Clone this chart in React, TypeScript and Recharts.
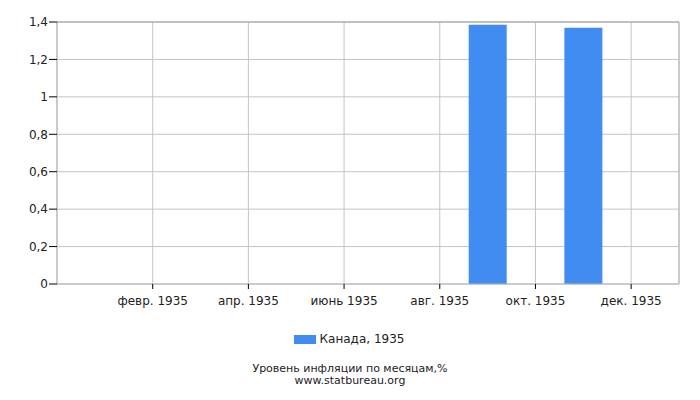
import React from 'react'
import { BarChart, Bar, XAxis, YAxis, CartesianGrid, ReferenceLine } from 'recharts'

// месяцы 1935 (1 = янв.)
const MONTHS = [1, 2, 3, 4, 5, 6, 7, 8, 9, 10, 11, 12]
const CANADA_1935: (number | null)[] = [null, null, null, null, null, null, null, null, 1.385, null, 1.369, null]
const X_TICKS = [2, 4, 6, 8, 10, 12]
const X_LABELS: Record<number, string> = {
  2: 'февр. 1935',
  4: 'апр. 1935',
  6: 'июнь 1935',
  8: 'авг. 1935',
  10: 'окт. 1935',
  12: 'дек. 1935'
}
const Y_TICKS = [0, 0.2, 0.4, 0.6, 0.8, 1, 1.2, 1.4]
const SERIES_NAME = 'Канада, 1935'
const TITLE = 'Уровень инфляции по месяцам,%'
const SOURCE = 'www.statbureau.org'

const FONT = '"DejaVu Sans", sans-serif'
const BLUE = '#418cf0'

const data = MONTHS.map((m, i) => ({ m, value: CANADA_1935[i] }))

const fmtY = (v: number) => String(v).replace('.', ',')

export default function App() {
  return (
    <div style={{ position: 'absolute', left: 0, top: 0, width: 700, height: 400, background: '#fff', fontFamily: FONT }}>
      <BarChart width={700} height={400} data={data} margin={{ top: 22, right: 21, left: 0, bottom: 85 }}>
        <CartesianGrid stroke="#c4c4c4" strokeWidth={1} />
        <XAxis
          dataKey="m"
          type="number"
          domain={[0, 13]}
          ticks={X_TICKS}
          tickFormatter={(v: number) => X_LABELS[v] ?? ''}
          height={31}
          tickSize={5}
          tickMargin={7}
          axisLine={{ stroke: '#b4b4b4' }}
          tickLine={{ stroke: '#000' }}
          tick={{ fontSize: 12, fill: '#222', fontFamily: FONT }}
          interval={0}
        />
        <YAxis
          domain={[0, 1.4]}
          ticks={Y_TICKS}
          tickFormatter={fmtY}
          width={57}
          tickSize={8}
          tickMargin={1}
          axisLine={{ stroke: '#b4b4b4' }}
          tickLine={{ stroke: '#000' }}
          tick={{ fontSize: 12, fill: '#222', fontFamily: FONT }}
          interval={0}
        />
        <ReferenceLine y={1.4} stroke="#a0a0a0" />
        <ReferenceLine x={13} stroke="#b4b4b4" />
        <Bar dataKey="value" fill={BLUE} barSize={38} isAnimationActive={false} />
      </BarChart>

      <div style={{ position: 'absolute', left: 0, top: 332, width: 700, display: 'flex', justifyContent: 'center', alignItems: 'center' }}>
        <span style={{ display: 'inline-block', width: 22, height: 9, background: BLUE, marginRight: 4, marginLeft: -2 }} />
        <span style={{ fontSize: 12, color: '#222' }}>{SERIES_NAME}</span>
      </div>

      <div style={{ position: 'absolute', left: 0, top: 363, width: 700, textAlign: 'center', fontSize: 11, lineHeight: '12px', color: '#222' }}>
        <div>{TITLE}</div>
        <div>{SOURCE}</div>
      </div>
    </div>
  )
}
